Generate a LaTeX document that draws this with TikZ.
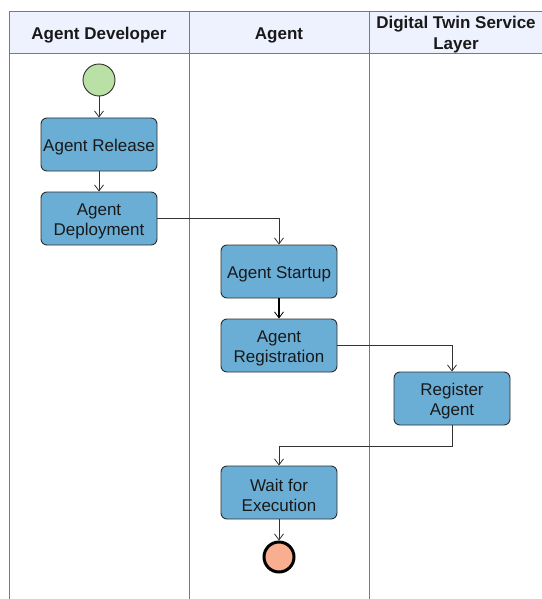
\documentclass[tikz,border=0pt]{standalone}
\usepackage{fontspec}
\setmainfont{Liberation Sans}
\usetikzlibrary{arrows.meta}
\definecolor{hdrfill}{HTML}{EEF2FF}
\definecolor{lanegray}{HTML}{7A7A7A}
\definecolor{actfill}{HTML}{6AAED6}
\definecolor{actdraw}{HTML}{2E2E2E}
\definecolor{startfill}{HTML}{B9E0A5}
\definecolor{endfill}{HTML}{F9AE8F}
\definecolor{conncol}{HTML}{333333}
\tikzset{
  lanehdr/.style={draw=lanegray, line width=1pt, fill=hdrfill},
  laneline/.style={draw=lanegray, line width=1pt},
  hdrtext/.style={font=\fontsize{17}{21}\selectfont\bfseries, align=center, text=black!90},
  act/.style={draw=actdraw, line width=0.9pt, fill=actfill, rounded corners=6pt,
    minimum width=116pt, minimum height=53pt, inner sep=0pt},
  lbl/.style={font=\fontsize{17}{20}\selectfont, align=center, text=black!90, yshift=-3pt},
  conn/.style={draw=conncol, line width=0.8pt, -{Straight Barb[length=6pt,width=9pt]}},
  thickconn/.style={draw=black, line width=2pt, -{Straight Barb[length=6pt,width=9pt,line width=0.8pt]}},
}
\begin{document}
\begin{tikzpicture}[x=1pt,y=-1pt]
\useasboundingbox (0,0) rectangle (541,599);
% swimlanes
\path[lanehdr] (9,12) rectangle (189,54);
\path[lanehdr] (189,12) rectangle (369,54);
\path[lanehdr] (369,12) rectangle (542,54);
\draw[laneline] (9,54) -- (9,600);
\draw[laneline] (189,54) -- (189,600);
\draw[laneline] (369,54) -- (369,600);
\node[hdrtext] (h1) at (99,35.5) {Agent Developer};
\node[hdrtext] (h2) at (279,35.5) {Agent};
\node[hdrtext] (h3) at (456,34.5) {Digital Twin Service\\Layer};
% nodes
\node[circle, draw=actdraw, line width=0.9pt, fill=startfill, minimum size=32pt, inner sep=0pt] (start) at (99,80) {};
\node[act, label={[lbl]center:{Agent Release}}] (rel) at (99,144.5) {};
\node[act, label={[lbl]center:{Agent\\Deployment}}] (dep) at (99,218.5) {};
\node[act, label={[lbl]center:{Agent Startup}}] (sup) at (279,271.5) {};
\node[act, label={[lbl]center:{Agent\\Registration}}] (reg) at (279,345.5) {};
\node[act, label={[lbl]center:{Register\\Agent}}] (rga) at (452,398.5) {};
\node[act, label={[lbl]center:{Wait for\\Execution}}] (wait) at (279,492.5) {};
\node[circle, draw=black, line width=3pt, fill=endfill, minimum size=30pt, inner sep=0pt] (end) at (279,557) {};
% connectors
\draw[conn] (start) -- (rel);
\draw[conn] (rel) -- (dep);
\draw[conn] (dep.east) -| (sup.north);
\draw[thickconn] (sup) -- (reg);
\draw[conn] (reg.east) -| (rga.north);
\draw[conn] (rga.south) -- (rga.south |- 0,446) -| (wait.north);
\draw[conn] (wait) -- (end);
\end{tikzpicture}
\end{document}
